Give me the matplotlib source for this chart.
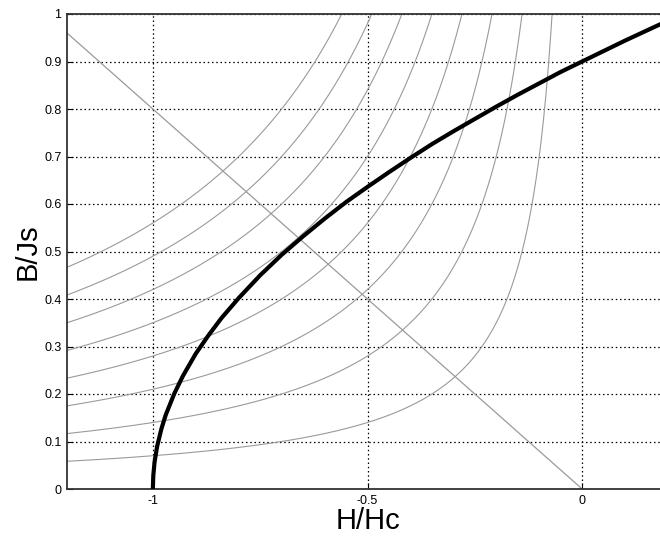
import numpy as np
import matplotlib
matplotlib.use("Agg")
import matplotlib.pyplot as plt

plt.rcParams['font.family'] = ['Liberation Sans', 'DejaVu Sans']
plt.rcParams['axes.unicode_minus'] = False

# Demagnetization curve (H/Hc, B/Js)
curve_H = [-1.000, -0.999, -0.996, -0.990, -0.980, -0.970, -0.950, -0.930, -0.900,
           -0.870, -0.840, -0.800, -0.750, -0.700, -0.650, -0.600, -0.550, -0.500,
           -0.450, -0.400, -0.350, -0.300, -0.250, -0.200, -0.150, -0.100, -0.050,
           0.000, 0.050, 0.100, 0.150, 0.200]
curve_B = [0.000, 0.028, 0.057, 0.090, 0.127, 0.156, 0.201, 0.238, 0.285,
           0.324, 0.360, 0.402, 0.450, 0.493, 0.532, 0.569, 0.604, 0.636,
           0.667, 0.697, 0.726, 0.753, 0.779, 0.805, 0.830, 0.854, 0.878,
           0.900, 0.922, 0.944, 0.965, 0.986]

# Load line end points
load_H = [-1.2, 0.0]
load_B = [0.96, 0.0]

# Iso energy-product levels (|B*H|)
energy_levels = [0.07, 0.14, 0.21, 0.28, 0.35, 0.42, 0.49, 0.56]

x_ticks = [-1, -0.5, 0]
x_ticklabels = ['-1', '-0.5', '0']
y_ticks = [0, 0.1, 0.2, 0.3, 0.4, 0.5, 0.6, 0.7, 0.8, 0.9, 1]
y_ticklabels = ['0', '0.1', '0.2', '0.3', '0.4', '0.5', '0.6', '0.7', '0.8', '0.9', '1']

fig = plt.figure(figsize=(6.60, 5.41), dpi=100)
ax = fig.add_axes([67/660, 52/541, 601/660, 475/541])

gray = '#9a9a9a'
for k in energy_levels:
    H = np.linspace(-1.2, -k, 400)
    ax.plot(H, k / (-H), color=gray, lw=0.8, zorder=2)

ax.plot(load_H, load_B, color=gray, lw=0.9, zorder=2)
ax.plot(curve_H, curve_B, color='black', lw=3.0, solid_capstyle='butt',
        solid_joinstyle='round', zorder=3)

ax.set_xlim(-1.2, 0.2)
ax.set_ylim(0, 1)
ax.set_xticks(x_ticks)
ax.set_xticklabels(x_ticklabels)
ax.set_yticks(y_ticks)
ax.set_yticklabels(y_ticklabels)
ax.tick_params(direction='in', length=4, width=0.8, labelsize=9, pad=4)
ax.grid(True, color='black', linestyle=(0, (1.2, 2.2)), linewidth=0.9)
ax.set_axisbelow(True)

for s in ['top', 'left', 'bottom', 'right']:
    ax.spines[s].set_color('#333333')
    ax.spines[s].set_linewidth(1.3)

ax.set_xlabel('H/Hc', fontsize=21, labelpad=0)
ax.set_ylabel('B/Js', fontsize=21, labelpad=2)

fig.savefig('out.png', dpi=100)
